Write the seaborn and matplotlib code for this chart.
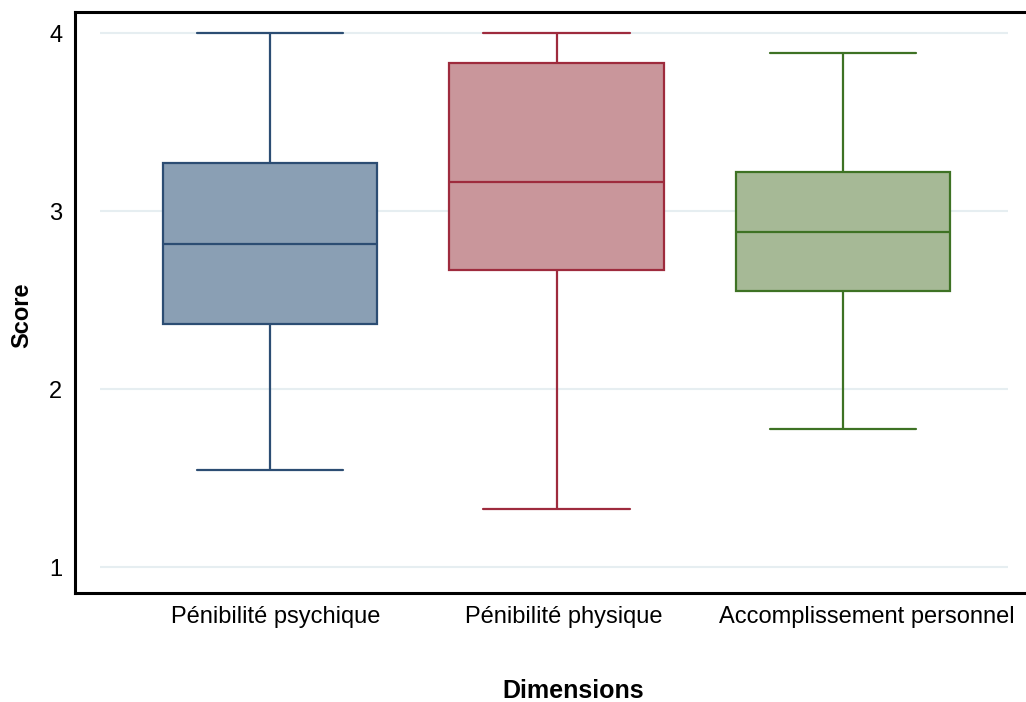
import numpy as np
import pandas as pd
import matplotlib
matplotlib.use("Agg")
import matplotlib.pyplot as plt
import matplotlib.transforms as mtransforms
import seaborn as sns

# Categories and five-number summaries (min, Q1, median, Q3, max)
categories = ["Pénibilité psychique", "Pénibilité physique", "Accomplissement personnel"]
psychique = [1.545, 2.365, 2.815, 3.27, 4.0]
physique = [1.326, 2.67, 3.163, 3.83, 4.0]
accomplissement = [1.775, 2.55, 2.882, 3.219, 3.888]
yticks = [1, 2, 3, 4]

fills = ["#8a9fb4", "#c9969b", "#a6b996"]
edges = ["#2c4d73", "#9e2b3d", "#3e7224"]

df = pd.DataFrame({
    "Dimensions": [categories[0]] * 5 + [categories[1]] * 5 + [categories[2]] * 5,
    "Score": psychique + physique + accomplissement,
})
extremes = set(psychique[::4] + physique[::4] + accomplissement[::4])

sns.set_style("white")
plt.rcParams['font.family'] = ['Liberation Sans', 'DejaVu Sans']
plt.rcParams['text.color'] = 'black'
plt.rcParams['axes.labelcolor'] = 'black'
plt.rcParams['xtick.color'] = 'black'
plt.rcParams['ytick.color'] = 'black'

fig = plt.figure(figsize=(10.26, 7.02), dpi=100)
ax = fig.add_axes([75/1026, 1 - 593/702, 1 - 75/1026, (593 - 12)/702])

# light grid lines (Stata-like, not full width)
ax.hlines(yticks, -0.593, 2.576, color="#e6eef1", lw=1.5, zorder=0)

sns.boxplot(data=df, x="Dimensions", y="Score", order=categories, whis=(0, 100),
            width=0.75, linewidth=1.6, ax=ax, hue="Dimensions", palette=fills,
            legend=False, saturation=1)

for i, patch in enumerate(ax.patches):
    patch.set_edgecolor(edges[i])
    patch.set_facecolor(fills[i])
    patch.set_zorder(2)
for ln in ax.lines:
    xd = np.asarray(ln.get_xdata(), dtype=float)
    yd = np.asarray(ln.get_ydata(), dtype=float)
    if xd.size == 0:
        continue
    idx = int(round(float(np.mean(xd))))
    if 0 <= idx <= 2:
        ln.set_color(edges[idx])
        ln.set_zorder(3)
    # widen whisker caps to match reference
    if xd.size == 2 and yd[0] == yd[1] and abs(xd[1] - xd[0]) < 0.6 \
            and float(yd[0]) in extremes:
        c = xd.mean()
        ln.set_xdata([c - 0.255, c + 0.255])

ax.set_xlim(-0.681, 2.639)
ax.set_ylim(0.854, 4.118)
ax.set_yticks(yticks)
ax.set_yticklabels([str(t) for t in yticks], fontsize=17)
ax.tick_params(axis="both", length=0, pad=9)
ax.tick_params(axis="x", labelsize=17, pad=9)
ax.grid(False)

# small horizontal offsets of category labels as in the reference
offsets = [6, 7, 24]
for lab, dx in zip(ax.get_xticklabels(), offsets):
    lab.set_transform(lab.get_transform() +
                      mtransforms.ScaledTranslation(dx / 100, 0, fig.dpi_scale_trans))

for s in ["left", "top", "bottom"]:
    ax.spines[s].set_visible(True)
    ax.spines[s].set_color("black")
    ax.spines[s].set_linewidth(2.2)
ax.spines["right"].set_visible(False)

ax.set_ylabel("Score", fontsize=17, fontweight="bold")
ax.yaxis.set_label_coords((33 - 75) / 951, 1 - (315 - 12) / 581)
ax.set_xlabel("Dimensions", fontsize=18, fontweight="bold")
ax.xaxis.set_label_coords((573 - 75) / 951, -(679 - 593) / 581)

fig.savefig("out.png", dpi=100)
